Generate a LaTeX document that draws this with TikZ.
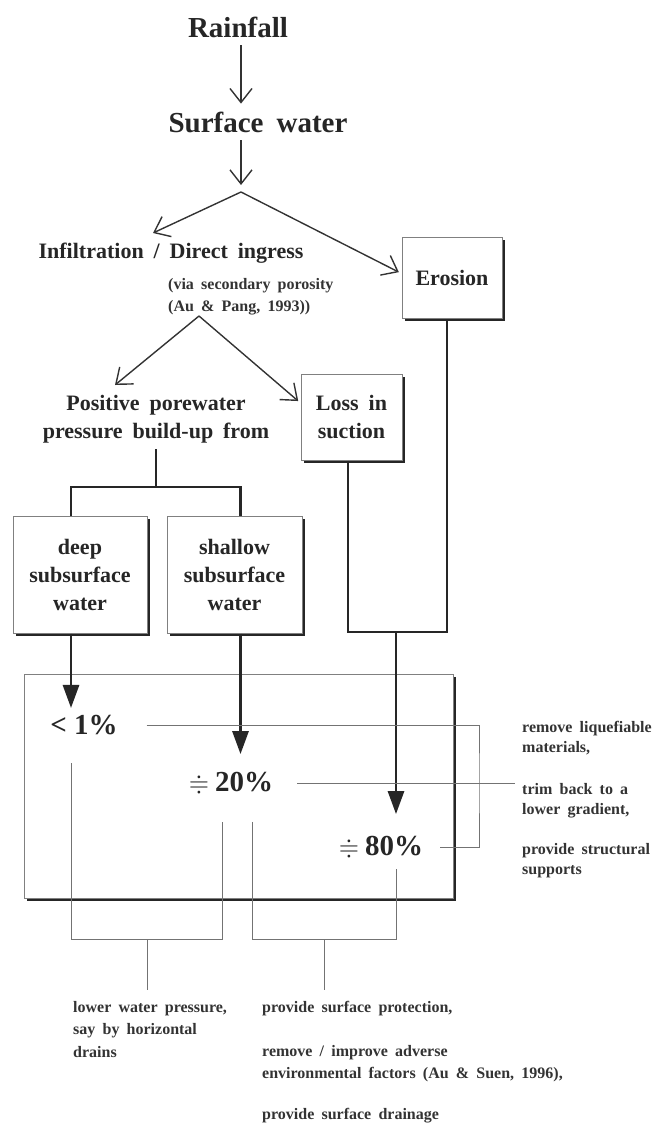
\documentclass[tikz,border=0pt]{standalone}
\usepackage{fontspec}
\usepackage{amssymb}
\setmainfont{Liberation Serif}[WordSpace=1.8]
\usetikzlibrary{arrows.meta,shadows,positioning}
\def\fw{2.8pt}
\def\sh{2.5pt}
\def\approxsign{\scalebox{0.9}{$\doteqdot$}\hspace{6pt}}
\tikzset{
  heading/.style={font=\bfseries\fontsize{29}{34}\selectfont,text=black!85,inner sep=0pt,outer sep=8pt},
  body/.style={font=\bfseries\fontsize{22}{28}\selectfont,text=black!85,align=center,inner sep=0pt},
  note/.style={font=\bfseries\fontsize{16}{22.5}\selectfont,text=black!80,align=left,inner sep=0pt},
  sidenote/.style={note,font=\bfseries\fontsize{16}{20.5}\selectfont},
  pct/.style={font=\bfseries\fontsize{29}{34}\selectfont,text=black!85,inner sep=0pt},
  sbox/.style={draw=black!50,line width=1pt,fill=white,align=center,
    drop shadow={shadow xshift=\sh,shadow yshift=-\sh,opacity=1,fill=black!85}},
  flow/.style={-{Straight Barb[length=14pt,width=22pt]},line width=1.4pt,black!80},
  feed/.style={line width=\fw,black!85},
  feedarrow/.style={feed,-{Triangle[length=23pt,width=16pt]}},
  remedy/.style={line width=0.9pt,black!55}
}

\begin{document}
\begin{tikzpicture}[x=1pt,y=-1pt]
  \useasboundingbox (0,0) rectangle (657,1125);

  % Rainfall
  \node[heading] (rain) at (238,27) {Rainfall};
  \node[heading] (surf) at (258,122) {Surface water};
  \coordinate (split) at (241,192);
  \draw[flow] (rain.south -| split) -- (surf.north -| split);
  \draw[flow,shorten >=7pt] (surf.south -| split) -- (split);

  % Infiltration and erosion
  \node[body] (infil) at (171,253) {Infiltration / Direct ingress};
  \node[note,anchor=north west] (via) at (168,278) {(via secondary porosity\\(Au \& Pang, 1993))};
  \node[sbox,body,minimum width=100pt,minimum height=81pt] (eros) at (452,277.5) {Erosion};
  \coordinate (infiltip) at (153,233);
  \draw[flow] (split) -- (infiltip);
  \draw[flow,shorten >=3pt] (split) -- ([yshift=4pt]eros.west);

  % Porewater pressure and suction
  \coordinate (split2) at (199,316);
  \node[body] (pos) at (156,419) {Positive porewater\\pressure build-up from};
  \node[sbox,body,minimum width=101pt,minimum height=86pt] (loss) at (351.5,417) {Loss in\\suction};
  \coordinate (postip) at (115,385);
  \draw[flow] (split2) -- (postip);
  \draw[flow,shorten >=3pt] (split2) -- ([yshift=14pt]loss.west);

  % Subsurface water
  \coordinate (fork) at (156,487);
  \draw[feed,shorten <=6pt] (pos.south) -- (fork);
  \node[sbox,body,minimum width=134pt,minimum height=117pt] (deep) at (80,574.5) {deep\\subsurface\\water};
  \node[sbox,body,minimum width=135pt,minimum height=117pt] (shal) at (234.5,574.5) {shallow\\subsurface\\water};
  \draw[feed] ([xshift=-9pt]deep.north) |- (fork) -| ([xshift=6pt]shal.north);

  % Suction and erosion join
  \coordinate (merge) at (396,632);
  \coordinate (lossfoot) at ([xshift=-3.5pt]loss.south);
  \coordinate (erosfoot) at ([xshift=-5pt]eros.south);
  \draw[feed] (lossfoot) |- (erosfoot |- merge) -- (erosfoot);

  % Shares
  \node[sbox,minimum width=429pt,minimum height=224pt] (frame) at (238.5,786) {};
  \node[pct] (p1) at (84,725) {<\hspace{7pt}1\%};
  \node[pct] (p20) at (231,783) {\approxsign 20\%};
  \node[pct] (p80) at (381,847) {\approxsign 80\%};
  \coordinate (deepfoot) at ([xshift=-9pt]deep.south);
  \coordinate (shalfoot) at ([xshift=6pt]shal.south);
  \draw[feedarrow,shorten >=7pt] (deepfoot) -- (deepfoot |- p1.north);
  \draw[feedarrow,shorten >=18pt] (shalfoot) -- (shalfoot |- p20.north);
  \draw[feedarrow,shorten >=22pt] (merge) -- (merge |- p80.north);

  % Remedial measures, right
  \node[sidenote,anchor=north west] (liq) at (522,721) {remove liquefiable\\materials,};
  \node[sidenote,anchor=north west] (trim) at (522,783) {trim back to a\\lower gradient,};
  \node[sidenote,anchor=north west] (supp) at (522,843) {provide structural\\supports};
  \coordinate (brkR) at (479,780);
  \draw[remedy] ([xshift=29pt]p1.east) -| (brkR) |- ([xshift=17pt]p80.east);
  \draw[remedy,shorten >=7pt] ([xshift=24pt]p20.east) -- (p20.east -| trim.west);

  % Remedial measures, below
  \node[note,anchor=north west] (pres) at (73,1001) {lower water pressure,\\say by horizontal\\drains};
  \node[note,anchor=north west] (prot) at (262,1001) {provide surface protection,};
  \node[note,anchor=north west] (envf) at (262,1045) {remove / improve adverse\\environmental factors (Au \& Suen, 1996),};
  \node[note,anchor=north west] (sdrn) at (262,1108) {provide surface drainage};
  \coordinate (lowL) at (147,939);
  \coordinate (lowR) at (324,939);
  \draw[remedy] ([xshift=-13pt,yshift=-28pt]p1.south) |- (lowL) -| ([xshift=-9pt,yshift=-28pt]p20.south);
  \draw[remedy] ([xshift=21pt,yshift=-28pt]p20.south) |- (lowR) -| ([xshift=15pt,yshift=-11pt]p80.south);
  \draw[remedy,shorten >=11pt] (lowL) -- (lowL |- pres.north);
  \draw[remedy,shorten >=11pt] (lowR) -- (lowR |- prot.north);
\end{tikzpicture}
\end{document}
